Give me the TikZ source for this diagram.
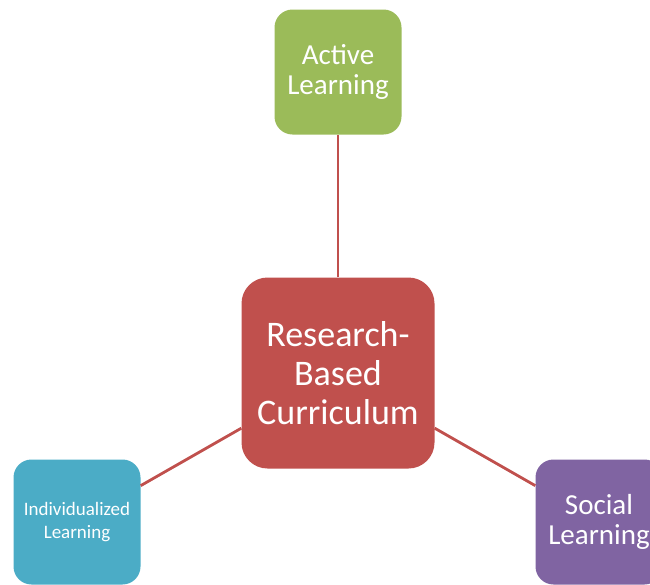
\documentclass[tikz,border=0pt]{standalone}
\usepackage{fontspec}
\setmainfont{Carlito}

\definecolor{redbox}{HTML}{C0504D}
\definecolor{greenbox}{HTML}{9BBB59}
\definecolor{bluebox}{HTML}{4BACC6}
\definecolor{purplebox}{HTML}{8064A2}

\tikzset{
  box/.style={rounded corners=18pt, text=white, align=center, inner sep=0pt,
    minimum width=127pt, minimum height=125pt, font=\fontsize{29}{30}\selectfont},
  link/.style={draw=redbox, line width=2.8pt}
}

\begin{document}
\begin{tikzpicture}[x=1pt,y=-1pt]
\clip (0,0) rectangle (650,584);
\node[box, fill=redbox, minimum width=193pt, minimum height=191pt, rounded corners=26pt,
  font=\fontsize{36}{39}\selectfont] (curr) at (338,373) {Research-\\Based\\Curriculum};
\node[box, fill=greenbox] (active) at (338,72) {Active\\Learning};
\node[box, fill=bluebox, font=\fontsize{19}{23}\selectfont] (indiv) at (77,522) {Individualized\\Learning};
\node[box, fill=purplebox] (social) at (599,522) {Social\\Learning};
\foreach \n in {active,indiv,social}
  \draw[link] (curr) -- (\n);
\end{tikzpicture}
\end{document}
